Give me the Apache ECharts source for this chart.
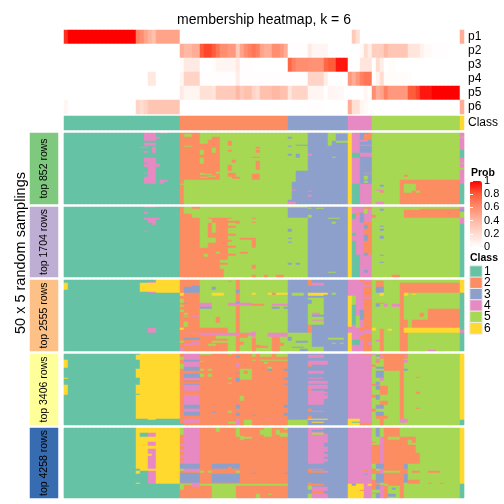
<!DOCTYPE html>
<html><head><meta charset="utf-8">
<style>html,body{margin:0;padding:0;background:#fff}#c{width:504px;height:504px}</style>
<script src="https://cdn.jsdelivr.net/npm/echarts@6/dist/echarts.min.js"></script>
</head><body><div id="c"></div>
<script>
const probRows = ['p1','p2','p3','p4','p5','p6'];
const p1 = [[.9,1],[1,17],[.65,1],[.6,1],[.5,1],[.42,1],[.35,1],[.5,6],[0,43],[.3,1],[.18,1],[0,25],[.45,1]];
const p2 = [[0,29],[.45,1],[.4,2],[.45,2],[.8,1],[.85,2],[.8,1],[.7,1],[.6,2],[.55,2],[.3,1],[.5,1],[.6,1],[.65,1],[.7,1],[.65,1],[.5,1],[.45,2],[.6,2],[.55,1],[.45,1],[.01,5],[.12,1],[.05,4],[0,8],[.03,1],[.2,1],[.1,1],[.28,3],[.4,1],[.32,5],[.15,3],[.08,1],[.03,2],[.01,4],[0,4]];
const p3 = [[0,29],[.02,1],[.12,4],[0,3],[.02,1],[.05,5],[.12,1],[.01,3],[0,9],[.75,1],[.65,1],[.6,3],[.58,4],[.75,1],[.8,2],[.95,3],[0,3],[.15,3],[0,1],[.2,1],[.1,1],[0,1],[.02,2],[0,17]];
const p4 = [[0,21],[.13,2],[0,6],[.05,1],[.25,4],[.01,9],[.1,1],[.01,17],[.25,4],[.1,1],[0,5],[.55,1],[.45,1],[.55,1],[.65,1],[.7,2],[0,1],[.08,1],[.2,1],[.02,7],[0,13]];
const p5 = [[0,29],[.12,1],[.06,4],[.18,3],[.15,1],[.3,5],[.4,1],[.3,1],[.35,2],[.25,1],[.2,1],[.35,3],[.4,2],[.35,2],[.15,1],[.25,4],[.05,4],[0,1],[.05,2],[.04,2],[0,5],[.05,1],[0,1],[.6,1],[.45,1],[.5,1],[.65,1],[.55,5],[.8,2],[.85,1],[.95,3],[1,7],[0,1]];
const p6 = [[.05,1],[0,17],[.25,1],[.2,1],[.25,1],[.33,8],[0,32],[.01,4],[0,6],[.45,1],[.18,2],[.06,1],[.03,1],[0,23],[.45,1]];
const classRuns = [[1,29],[2,27],[3,15],[4,6],[5,22],[6,1]];
const classColors = ['#66C2A5','#FC8D62','#8DA0CB','#E78AC3','#A6D854','#FFD92F'];
const classNames = ['1','2','3','4','5','6'];
const stripNames = ['top 852 rows','top 1704 rows','top 2555 rows','top 3406 rows','top 4258 rows'];
const stripColors = ['#7FC97F','#BEAED4','#FDC086','#FFFF99','#386CB0'];

// Each panel: column runs [class,count], then patches [colFrom,colTo,rowFrom,rowTo,class]
const base1 = [[1,29],[5,32],[3,10],[6,1],[4,2],[3,3],[5,22],[4,1]];
const patch1 = [[24,26,0,1,4],[20,23,0,8,4],[23,24,4,6,4],[21,22,8,10,1],[20,23,10,13,4],[19,21,14,15,4],[22,23,14,20,4],[20,21,18,20,4],[20,23,25,30,4],[21,23,30,34,4],[20,24,31,34,4],[21,23,34,40,4],[20,21,40,41,4],[21,23,40,44,4],[20,23,44,51,4],[24,26,47,49,4],[24,25,49,51,4],
[29,34,0,47,2],[30,32,1,4,5],[30,32,13,14,5],[29,30,47,71,2],[29,30,51,52,5],[37,39,4,7,2],[36,39,7,11,2],[34,39,11,47,2],[34,35,17,22,5],[37,38,15,20,5],[34,35,25,31,5],[34,35,40,41,5],[34,37,41,42,5],[38,39,39,41,5],[36,38,43,44,5],[34,36,44,45,5],[41,42,8,13,2],[41,42,17,19,2],[42,43,27,30,2],[41,42,32,38,2],[41,43,40,44,2],[42,44,44,46,2],[48,49,14,16,2],[47,49,24,25,2],[48,49,17,20,2],[48,49,28,37,2],[47,49,41,47,2],
[56,57,4,6,3],[56,57,13,14,3],[56,57,21,23,3],[58,61,12,13,3],[58,59,21,25,3],[58,61,38,42,3],[58,61,42,71,3],[57,58,49,71,3],[56,57,67,71,3],[57,58,57,58,4],[56,58,69,71,4],[61,62,21,23,4],[61,62,58,59,4],[61,62,62,64,4],[66,68,0,8,5],[68,71,8,10,5],[66,67,8,13,5],[67,68,24,25,5],[68,71,0,1,5],
[72,74,20,25,1],[72,74,51,71,1],[75,76,1,7,2],[76,77,0,7,2],[75,76,2,3,4],[74,76,7,9,4],[74,77,12,13,4],[74,77,20,24,4],[75,77,40,41,2],[75,76,43,47,5],[74,77,51,71,4],[75,76,48,50,5],
[84,85,47,71,2],[85,87,47,51,2],[85,86,60,71,2],[86,99,47,71,2],[87,88,51,58,5],[86,87,51,60,5],[88,89,58,60,5],[85,86,42,44,2],[79,80,52,54,3],[78,80,57,58,4],[79,80,58,60,2],[78,80,69,71,4],
[99,100,4,5,5],[99,100,17,25,1],[99,100,30,31,5],[99,100,35,37,5],[99,100,51,71,1]];

const base2 = [[1,29],[5,32],[3,10],[6,1],[4,5],[5,22],[1,1]];
const patch2 = [[20,23,0,1,4],[20,21,5,7,4],[20,24,11,13,4],[21,23,13,16,4],[22,23,16,18,4],[20,21,24,25,4],
[29,30,0,70,2],[32,34,0,2,2],[30,32,7,70,2],[32,34,11,70,2],[34,36,41,70,2],[36,39,11,70,2],[35,37,12,16,5],[37,38,16,26,5],[36,38,31,36,5],[35,36,47,50,5],[38,39,45,47,5],[39,41,11,53,2],[41,42,11,12,2],[41,43,14,16,2],[41,43,19,21,2],[41,43,27,29,2],[41,42,33,35,2],[41,43,39,41,2],[41,43,47,49,2],[39,41,56,58,2],[39,40,62,70,2],[43,44,14,17,2],[44,47,31,33,2],[44,46,45,47,2],[47,48,31,41,2],[47,48,58,62,2],[47,48,11,12,2],[47,48,15,16,2],[47,48,68,70,2],[50,51,68,70,2],[53,55,68,70,2],
[56,61,1,11,3],[56,57,22,25,3],[56,57,31,32,3],[56,57,35,36,3],[56,57,56,58,3],[58,59,56,58,3],[61,62,8,11,5],[61,62,1,2,5],[63,65,1,2,5],[66,69,11,12,5],[67,68,15,17,5],[61,62,56,58,3],[66,68,65,66,5],
[72,74,0,2,4],[72,73,7,12,1],[73,74,6,8,2],[74,75,6,16,3],[75,76,2,7,5],[75,77,0,2,2],[76,77,7,11,4],[72,73,26,29,1],[72,73,34,48,1],[72,74,48,70,1],[75,77,15,48,2],[75,76,28,34,3],[75,76,46,49,3],[75,76,18,22,3],[75,76,63,66,3],
[77,78,8,11,2],[79,80,2,4,3],[79,80,19,20,3],[79,80,22,24,3],[79,80,29,32,3],[79,80,48,49,3],[79,80,55,56,3],[85,99,3,11,2],[89,99,2,3,2],[82,84,68,70,2],
[99,100,0,2,4],[99,100,2,5,3],[99,100,5,11,5],[99,100,11,17,4]];

const base3 = [[1,29],[5,27],[3,5],[5,4],[3,6],[6,1],[4,2],[4,1],[2,2],[5,22],[1,1]];
const patch3 = [[0,1,3,10,6],[19,29,3,12,6],[23,29,0,3,6],[23,29,12,13,6],[21,23,2,3,4],[21,23,12,13,4],[21,23,48,53,4],
[29,34,0,71,2],[30,34,7,13,3],[32,34,6,7,3],[29,30,13,16,6],[29,30,19,23,5],[29,30,25,27,5],[29,30,30,32,5],[30,31,33,35,5],[30,31,23,24,3],[30,31,36,37,5],[30,31,42,43,5],[32,34,36,37,4],[29,30,48,50,6],[30,31,43,47,5],[30,34,53,54,4],[30,34,58,60,3],[32,34,62,65,4],[29,30,61,63,5],[30,32,64,66,4],[29,30,68,71,4],
[34,37,23,27,4],[34,37,27,29,3],[37,38,7,10,3],[37,40,13,16,6],[43,44,0,71,2],[43,44,10,13,3],[41,47,23,26,4],[43,44,22,24,3],[38,39,37,43,2],[34,41,48,53,2],[34,41,59,71,2],[34,38,56,59,2],[34,47,53,56,4],[37,41,61,63,5],[36,38,64,66,5],[44,46,54,58,2],[44,45,62,65,2],[41,42,1,2,2],
[47,48,13,15,6],[51,52,13,15,6],[52,53,13,15,2],[53,56,13,15,6],[47,50,24,26,2],[52,56,24,26,4],[52,54,27,29,3],[55,56,27,29,3],[47,48,52,57,4],[51,56,53,57,4],[47,48,58,71,2],[52,54,57,71,2],[48,49,65,68,2],[49,51,66,68,2],[52,55,63,66,2],
[57,60,13,16,5],[56,61,53,71,5],[56,57,57,61,3],[58,61,61,63,3],[57,60,67,68,3],[59,61,69,71,3],
[61,65,0,5,3],[61,62,0,6,2],[62,65,3,6,4],[61,65,6,13,3],[61,65,13,16,6],[65,66,13,15,6],[67,68,13,15,5],[61,65,16,18,3],[62,64,33,35,4],[62,65,35,37,3],[62,65,40,41,4],[62,65,45,71,3],[61,62,48,53,2],[61,62,45,48,2],[61,65,67,71,5],[61,62,20,24,3],[66,70,58,60,5],[67,68,63,64,5],[69,70,63,64,5],
[71,72,0,16,4],[71,72,47,53,4],[72,73,16,25,5],[73,74,16,25,4],[72,73,25,45,1],[73,74,25,36,4],[72,73,45,60,4],[72,74,60,65,1],[73,74,36,48,5],[72,74,65,71,4],[74,75,0,2,2],[74,75,30,40,3],[75,77,0,2,4],[75,76,2,4,2],[75,77,5,7,4],[75,77,17,19,4],[75,77,50,54,4],[76,77,62,65,4],[74,75,48,52,2],[74,75,56,60,2],
[78,80,1,7,2],[78,80,7,13,3],[79,80,13,16,6],[78,79,23,27,3],[80,81,24,27,4],[82,84,24,27,4],[78,80,23,24,2],[77,78,48,51,6],[81,82,49,51,6],[79,80,49,71,2],[78,79,60,62,4],[84,99,3,13,2],[84,85,13,53,2],[85,99,48,53,6],[85,86,13,16,6],[87,88,14,15,6],[84,86,53,71,2],[91,99,29,48,2],[87,91,40,48,2],[89,90,33,37,2],[85,86,40,48,2],[91,93,70,71,4],
[99,100,0,13,6],[99,100,50,53,4]];

const base4 = [[1,29],[2,27],[3,15],[4,6],[5,7],[2,2],[5,13],[6,1]];
const patch4 = [[19,29,0,65,6],[18,19,1,6,6],[18,19,15,24,6],[18,19,31,40,6],[18,19,41,65,6],[21,23,65,66,6],[0,1,6,14,6],[0,1,24,25,6],[0,1,31,41,6],
[29,30,3,6,5],[29,30,10,15,5],[29,30,70,71,1],[30,34,0,6,4],[30,34,6,8,3],[30,34,8,13,4],[30,34,13,17,3],[30,34,17,20,2],[30,34,20,24,3],[30,34,24,26,4],[30,34,27,28,3],[30,34,30,31,3],[30,34,31,37,4],[30,34,41,51,4],[30,34,51,55,3],[30,34,55,58,4],[30,34,58,62,3],[30,34,65,69,4],
[34,35,7,8,5],[34,37,0,1,5],[34,35,15,17,5],[34,35,20,23,5],[36,37,15,17,5],[36,37,20,23,5],[41,42,24,25,5],[41,42,29,30,5],[43,44,2,4,3],[43,44,9,13,4],[43,44,19,20,3],[43,44,24,28,3],[44,47,15,26,5],[45,46,17,20,2],[44,45,42,47,5],[43,44,51,55,3],[43,44,59,62,3],[37,38,58,59,3],[41,42,57,59,5],[45,47,66,71,5],[43,44,65,71,4],[41,43,68,70,5],[41,42,0,1,5],
[47,48,0,3,5],[49,52,0,3,5],[53,56,0,3,5],[47,48,6,7,5],[49,56,6,7,5],[50,51,8,10,5],[51,52,13,15,5],[51,52,15,17,3],[55,56,15,17,3],[55,56,24,26,3],[55,56,30,31,3],[55,56,51,54,3],[55,56,59,62,3],[47,48,61,62,3],[50,52,65,66,4],[53,55,65,66,4],
[56,61,66,71,5],[61,65,1,4,4],[61,66,7,11,4],[61,62,11,13,2],[61,65,17,20,4],[61,65,24,25,4],[61,66,27,30,4],[61,66,31,35,4],[61,62,35,37,2],[61,65,37,51,4],[65,66,38,40,4],[65,66,41,45,4],[61,62,55,58,2],[62,65,57,58,4],[61,62,62,65,2],[61,66,65,66,6],[62,65,68,69,6],
[71,74,65,71,6],[72,74,68,69,1],[74,77,69,71,2],[75,77,0,1,2],
[80,84,0,17,2],[79,80,0,5,2],[77,78,0,1,4],[79,80,3,4,4],[78,79,1,3,3],[79,80,1,3,4],[78,79,5,7,4],[78,79,7,9,2],[78,80,13,15,3],[77,78,11,13,2],[78,80,17,24,3],[79,80,24,27,4],[77,79,30,32,2],[78,79,28,31,3],[79,81,32,41,2],[78,79,32,36,3],[77,78,41,44,2],[78,79,41,46,3],[78,80,51,55,3],[79,81,47,51,2],[78,80,58,62,3],[77,78,55,58,2],[78,81,62,65,2],[79,80,65,71,2],[85,86,5,71,5],[84,86,65,69,4],[84,85,69,71,5],[85,86,1,3,4],[85,86,6,9,4],[85,86,15,17,3],[88,89,23,24,2],[88,89,38,40,2],[88,89,54,55,2],
[99,100,66,71,1]];

const base5 = [[1,29],[2,27],[3,15],[4,6],[2,9],[5,13],[6,1]];
const patch5 = [[18,29,0,56,6],[18,19,41,43,1],[18,19,46,70,1],[19,21,43,56,1],[19,21,5,9,1],[21,23,5,9,4],[21,23,14,18,4],[21,23,21,26,4],[22,23,26,28,4],[21,23,28,41,4],[21,23,43,56,4],[18,19,55,56,6],
[29,30,0,7,5],[30,31,7,9,5],[30,34,0,36,4],[29,30,16,18,4],[29,30,22,24,4],[29,30,28,30,4],[29,30,33,35,4],[29,34,36,41,3],[30,34,41,44,4],[29,30,41,43,5],[29,34,45,55,3],[32,34,55,59,4],[29,30,56,62,5],[30,32,56,57,5],
[38,39,0,4,5],[43,44,0,9,5],[44,45,8,12,5],[45,47,9,11,5],[34,35,43,45,5],[36,37,43,45,5],[43,44,43,45,5],[37,44,36,41,3],[37,44,46,55,3],[41,42,39,41,2],[34,56,56,58,5],[37,43,58,70,5],
[49,50,2,7,5],[50,52,0,9,5],[53,54,2,7,5],[54,56,5,9,5],[55,56,0,2,5],[47,48,45,46,3],[55,56,45,46,3],[48,49,66,70,5],[51,52,66,67,5],
[61,65,0,36,4],[62,65,2,4,3],[62,65,5,7,5],[65,66,6,15,4],[65,66,19,24,4],[65,66,26,29,4],[65,66,31,34,4],[61,62,41,45,2],[61,65,43,45,2],[65,66,43,45,4],[62,65,41,42,4],[61,62,55,58,2],[62,65,56,58,2],[61,62,58,62,5],[62,66,59,63,4],[62,65,63,66,2],[62,66,66,70,4],[61,62,66,70,5],
[71,75,56,70,6],[72,73,56,58,3],[76,77,56,58,6],[74,75,62,63,2],[74,75,65,66,6],[75,76,42,44,2],[75,76,46,47,3],
[77,78,0,9,5],[78,79,0,9,3],[79,80,0,9,5],[79,80,9,70,4],[77,79,9,17,5],[77,78,14,15,2],[77,79,36,41,5],[78,80,36,41,3],[77,78,41,43,2],[78,79,41,43,5],[77,78,46,52,5],[78,80,46,55,3],[77,78,52,55,2],[79,80,55,57,5],[78,79,57,62,3],[77,78,62,65,5],[78,79,62,65,5],[78,79,65,70,3],[77,78,66,70,5],
[81,84,9,12,5],[80,84,43,45,5],[84,86,0,9,5],[81,84,58,70,5],[82,83,60,62,3],[81,83,66,69,3],[80,81,56,58,5],[85,86,36,41,3],[85,86,46,55,3],[85,86,55,70,5],
[86,88,9,12,2],[87,88,12,15,2],[86,88,17,25,2],[86,89,25,36,2],[87,89,43,45,2],[91,94,43,45,2],[86,89,52,56,2],[91,92,55,56,2],[94,95,55,56,2],
[99,100,56,70,1]];

const panelBoxes = [[133,71,71],[207,70,70],[280,71,71],[354,71,71],[428,70,70]]; // top, height, rows
const panelBases = [base1,base2,base3,base4,base5];
const panelPatches = [patch1,patch2,patch3,patch4,patch5];

const expand = runs => { const a=[]; runs.forEach(([v,n])=>{for(let i=0;i<n;i++)a.push(v);}); return a; };
const cols = Array.from({length:100},(_,i)=>i);
const panelData = (base,patches,rows) => {
  const col = expand(base), m = [];
  for (let r=0;r<rows;r++) m.push(col.slice());
  patches.forEach(([c0,c1,r0,r1,k])=>{ for(let r=r0;r<r1&&r<rows;r++) for(let c=c0;c<c1;c++) m[r][c]=k; });
  const d=[]; m.forEach((row,r)=>row.forEach((k,c)=>d.push([c,r,k]))); return d;
};

const X0=64, W=400;
const grids=[], xAxes=[], yAxes=[], series=[];
const hiddenCat = (gi,data,extra)=>Object.assign({type:'category',gridIndex:gi,data,show:false},extra||{});
const lab = {fontFamily:'Liberation Sans',color:'#000'};
const addGrid=(left,top,width,height,xa,ya)=>{grids.push({left,top,width,height,containLabel:false});xAxes.push(xa);yAxes.push(ya);return grids.length-1;};

// top probability heatmap
let g = grids.length;
addGrid(X0,30,W,84,hiddenCat(g,cols),{type:'category',gridIndex:g,data:probRows,inverse:true,position:'right',axisLine:{show:false},axisTick:{show:false},axisLabel:Object.assign({fontSize:12,margin:4,interval:0},lab)});
const topData=[]; [p1,p2,p3,p4,p5,p6].forEach((p,r)=>expand(p).forEach((v,c)=>topData.push([c,r,v])));
series.push({type:'heatmap',xAxisIndex:g,yAxisIndex:g,data:topData,silent:true,progressive:0});

// class annotation + panels
g = grids.length;
addGrid(X0,116,W,14,hiddenCat(g,cols),{type:'category',gridIndex:g,data:['Class'],position:'right',axisLine:{show:false},axisTick:{show:false},axisLabel:Object.assign({fontSize:12,margin:4,interval:0},lab)});
series.push({type:'heatmap',xAxisIndex:g,yAxisIndex:g,data:expand(classRuns).map((k,c)=>[c,0,k]),silent:true,progressive:0});
const classSeries=[1];
panelBoxes.forEach(([top,h,rows],i)=>{
  g = grids.length;
  addGrid(X0,top,W,h,hiddenCat(g,cols),hiddenCat(g,Array.from({length:rows},(_,r)=>r),{inverse:true}));
  classSeries.push(series.length);
  series.push({type:'heatmap',xAxisIndex:g,yAxisIndex:g,data:panelData(panelBases[i],panelPatches[i],rows),silent:true,progressive:0});
});
// row strips
panelBoxes.forEach(([top,h],i)=>{
  g = grids.length;
  addGrid(30,top,28,h,hiddenCat(g,['s']),hiddenCat(g,['s']));
  series.push({type:'heatmap',xAxisIndex:g,yAxisIndex:g,silent:true,
    data:[{value:[0,0,1],itemStyle:{color:stripColors[i]}}],
    label:Object.assign({show:true,rotate:90,fontSize:10.5,formatter:stripNames[i]},lab)});
});
// class legend
g = grids.length;
addGrid(470,266,12,68,hiddenCat(g,['k']),{type:'category',gridIndex:g,data:classNames,inverse:true,position:'right',axisLine:{show:false},axisTick:{show:false},axisLabel:Object.assign({fontSize:12,margin:2,interval:0},lab)});
classSeries.push(series.length);
series.push({type:'heatmap',xAxisIndex:g,yAxisIndex:g,silent:true,data:classNames.map((n,i)=>[0,i,i+1]),itemStyle:{borderColor:'#eee',borderWidth:1}});
// prob legend axis
g = grids.length;
const probTick = {show:true,inside:true,length:3,lineStyle:{color:'#fff'}};
grids.push({left:470,top:181,width:12,height:66});
xAxes.push({type:'value',gridIndex:g,show:false});
yAxes.push({type:'value',gridIndex:g,min:0,max:1,interval:.2,position:'right',z:10,axisLine:{show:false},splitLine:{show:false},axisTick:probTick,axisLabel:Object.assign({fontSize:11,margin:2,interval:0},lab)});
yAxes.push({type:'value',gridIndex:g,min:0,max:1,interval:.2,position:'left',z:10,axisLine:{show:false},splitLine:{show:false},axisTick:probTick,axisLabel:{show:false}});

const option={animation:false,backgroundColor:'#fff',
  title:{text:'membership heatmap, k = 6',left:259,top:8,textAlign:'center',textStyle:{fontFamily:'Liberation Sans',fontSize:14,fontWeight:'normal',color:'#000'}},
  grid:grids,xAxis:xAxes,yAxis:yAxes,series,
  visualMap:[
   {type:'continuous',seriesIndex:0,min:0,max:1,left:470,top:181,padding:0,itemWidth:12,itemHeight:66,calculable:false,hoverLink:false,realtime:false,text:null,
    inRange:{color:['#FFFFFF','#FFDCD0','#FFB8A3','#FF8D6F','#FF5C3A','#FF0000']}},
   {type:'piecewise',seriesIndex:classSeries,show:false,pieces:classColors.map((c,i)=>({value:i+1,color:c}))}
  ],
  graphic:[
   {type:'text',left:13,top:172,rotation:Math.PI/2,style:{text:'50 x 5 random samplings',font:'14.5px "Liberation Sans"',fill:'#000'}},
   {type:'text',left:471,top:168,style:{text:'Prob',font:'bold 10.5px "Liberation Sans"',fill:'#000'}},
   {type:'text',left:470,top:253,style:{text:'Class',font:'bold 10.5px "Liberation Sans"',fill:'#000'}}
  ]};
const chart=echarts.init(document.getElementById('c'),null,{renderer:'canvas'});
chart.setOption(option);
</script></body></html>
